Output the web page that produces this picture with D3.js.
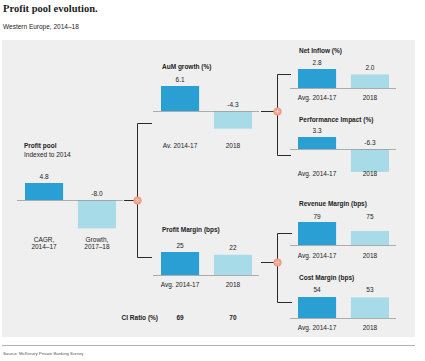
<!DOCTYPE html>
<html>
<head>
<meta charset="utf-8">
<script src="https://cdn.jsdelivr.net/npm/d3@7/dist/d3.min.js"></script>
<style>
  body { margin: 0; background: #fff; }
  svg text { font-family: "Liberation Sans", Arial, sans-serif; fill: #222; }
</style>
</head>
<body>
<div id="chart"></div>
<script>
// chart data
const profitPoolValues = [4.8, -8.0];
const profitPoolLabels = [["CAGR,", "2014–17"], ["Growth,", "2017–18"]];
const aumValues = [6.1, -4.3];
const aumLabels = ["Av. 2014-17", "2018"];
const netInflowValues = [2.8, 2.0];
const perfImpactValues = [3.3, -6.3];
const profitMarginValues = [25, 22];
const revenueMarginValues = [79, 75];
const costMarginValues = [54, 53];
const avgLabels = ["Avg. 2014-17", "2018"];
const ciRatioValues = [69, 70];

const width = 425, height = 361;
const dark = '#2a9fd4', light = '#a6dbe7';

const svg = d3.select('#chart')
    .append('svg')
    .attr('width', width)
    .attr('height', height);

// header
svg.append('text')
    .attr('x', 3).attr('y', 12)
    .style('font-family', '"Liberation Serif", "DejaVu Serif", serif')
    .style('font-weight', 'bold')
    .style('font-size', '10.5px')
    .text('Profit pool evolution.');
svg.append('text')
    .attr('x', 3).attr('y', 29)
    .style('font-size', '6.5px')
    .text('Western Europe, 2014–18');

// grey panel
svg.append('rect')
    .attr('x', 2).attr('y', 40)
    .attr('width', 413).attr('height', 297)
    .attr('fill', '#efefef');

// footer
svg.append('line')
    .attr('x1', 2).attr('x2', 415)
    .attr('y1', 345.5).attr('y2', 345.5)
    .attr('stroke', '#a0a0a0').attr('stroke-width', 0.8);
svg.append('text')
    .attr('x', 3).attr('y', 355)
    .style('font-size', '4.3px')
    .style('fill', '#555')
    .text('Source: McKinsey Private Banking Survey');

// one small bar chart
function panel(opt) {
  const g = svg.append('g');
  const x = d3.scaleBand()
      .domain(d3.range(opt.values.length))
      .range([opt.x, opt.x + 91])
      .paddingInner(0.28);
  const y = d3.scaleLinear()
      .domain(opt.domain)
      .range([opt.y0, opt.yTop]);
  const zero = y(opt.domain[0]);

  g.selectAll('rect.bar')
      .data(opt.values)
      .join('rect')
      .attr('class', 'bar')
      .attr('x', (d, i) => x(i))
      .attr('width', x.bandwidth())
      .attr('y', d => Math.min(y(d), zero))
      .attr('height', d => Math.abs(y(d) - zero))
      .attr('fill', (d, i) => i === 0 ? dark : light);

  g.append('line')
      .attr('x1', opt.x - (opt.lineLeft || 8))
      .attr('x2', opt.x + 91 + (opt.lineRight || 7))
      .attr('y1', zero + 0.5).attr('y2', zero + 0.5)
      .attr('stroke', '#9a9a9a').attr('stroke-width', 0.8);

  g.selectAll('text.val')
      .data(opt.values)
      .join('text')
      .attr('class', 'val')
      .attr('x', (d, i) => x(i) + x.bandwidth() / 2)
      .attr('y', d => opt.valueY || Math.min(y(d), zero) - 4.5)
      .attr('text-anchor', 'middle')
      .style('font-size', '6.5px')
      .text(d => opt.fmt ? opt.fmt(d) : d);

  g.append('text')
      .attr('x', opt.titleX !== undefined ? opt.titleX : opt.x + 1)
      .attr('y', opt.titleY)
      .style('font-size', '6.5px')
      .style('font-weight', 'bold')
      .text(opt.title);
  if (opt.subtitle) {
    g.append('text')
        .attr('x', opt.titleX !== undefined ? opt.titleX : opt.x + 1)
        .attr('y', opt.titleY + 9.5)
        .style('font-size', '6.5px')
        .text(opt.subtitle);
  }

  g.selectAll('text.cat')
      .data(opt.labels)
      .join('text')
      .attr('class', 'cat')
      .attr('x', (d, i) => x(i) + x.bandwidth() / 2)
      .attr('y', opt.labelY)
      .attr('text-anchor', 'middle')
      .style('font-size', '6.5px')
      .each(function(d) {
        const lines = Array.isArray(d) ? d : [d];
        d3.select(this).selectAll('tspan')
            .data(lines)
            .join('tspan')
            .attr('x', d3.select(this).attr('x'))
            .attr('dy', (l, j) => j === 0 ? 0 : 7.2)
            .text(l => l);
      });
  return { x, y };
}

const fmt1 = d3.format('.1f');
const fmtSigned = d => (d < 0 ? '-' : '') + fmt1(Math.abs(d));

const pp = panel({ values: profitPoolValues, labels: profitPoolLabels, fmt: fmtSigned,
  x: 25, y0: 200, domain: [0, 4.8], yTop: 183, titleX: 24, titleY: 147.5,
  title: 'Profit pool', subtitle: 'Indexed to 2014', labelY: 242 });
const aum = panel({ values: aumValues, labels: aumLabels, fmt: fmtSigned,
  x: 161, y0: 111, domain: [0, 6.1], yTop: 86, titleY: 69, title: 'AuM growth (%)', labelY: 148 });
panel({ values: netInflowValues, labels: avgLabels, fmt: fmtSigned,
  x: 298, y0: 88, domain: [0, 2.8], yTop: 69, titleY: 52.5, title: 'Net Inflow (%)', labelY: 99.5 });
panel({ values: perfImpactValues, labels: avgLabels, fmt: fmtSigned,
  x: 298, y0: 149, domain: [0, 3.3], yTop: 137, titleY: 122, title: 'Performance Impact (%)', labelY: 176 });
const pm = panel({ values: profitMarginValues, labels: avgLabels,
  x: 161, y0: 275, domain: [0, 25], yTop: 252, titleY: 232, title: 'Profit Margin (bps)', labelY: 287 });
panel({ values: revenueMarginValues, labels: avgLabels, valueY: 218.5,
  x: 298, y0: 245, domain: [68.8, 79], yTop: 222, titleY: 206, title: 'Revenue Margin (bps)', labelY: 257.5 });
panel({ values: costMarginValues, labels: avgLabels, valueY: 292,
  x: 298, y0: 318, domain: [0, 54], yTop: 297, titleY: 280, title: 'Cost Margin (bps)', labelY: 330 });

// CI ratio row
svg.append('text')
    .attr('x', 158).attr('y', 320)
    .attr('text-anchor', 'end')
    .style('font-size', '6.5px').style('font-weight', 'bold')
    .text('CI Ratio (%)');
svg.selectAll('text.ci')
    .data(ciRatioValues)
    .join('text')
    .attr('class', 'ci')
    .attr('x', (d, i) => pm.x(i) + pm.x.bandwidth() / 2)
    .attr('y', 320)
    .attr('text-anchor', 'middle')
    .style('font-size', '6.5px').style('font-weight', 'bold')
    .text(d => d);

// connectors: short line, operator circle, bracket
function connector(cx, cy, lineFrom, top, bottom, armTo, sign) {
  const px = Math.round(cx) + 0.5, py = Math.round(cy) + 0.5;
  const g = svg.append('g').attr('stroke', '#2a2a2a').attr('stroke-width', 1).attr('fill', 'none');
  g.append('line').attr('x1', lineFrom).attr('x2', px).attr('y1', py).attr('y2', py);
  g.append('path')
      .attr('d', `M${armTo},${top + 0.5}H${px}V${bottom + 0.5}H${armTo}`);
  svg.append('circle')
      .attr('cx', px).attr('cy', py).attr('r', 3.8)
      .attr('fill', '#f3a48a').attr('stroke', '#e9876a').attr('stroke-width', 0.6);
  const s = svg.append('g').attr('stroke', '#fbe3da').attr('stroke-width', 0.9);
  if (sign === '+' || sign === 'x') {
    const r = 1.8;
    const a = sign === 'x' ? Math.PI / 4 : 0;
    [0, Math.PI / 2].forEach(b => {
      s.append('line')
          .attr('x1', px - r * Math.cos(a + b)).attr('y1', py - r * Math.sin(a + b))
          .attr('x2', px + r * Math.cos(a + b)).attr('y2', py + r * Math.sin(a + b));
    });
  } else {
    s.append('line').attr('x1', px - 1.8).attr('x2', px + 1.8).attr('y1', py).attr('y2', py);
  }
}

connector(137, pp.y(0), 124, 123, 257, 152, 'x');
connector(277, aum.y(0), 261, 74, 155, 291, '+');
connector(277, 262, 261, 233, 302, 292, '-');
</script>
</body>
</html>
